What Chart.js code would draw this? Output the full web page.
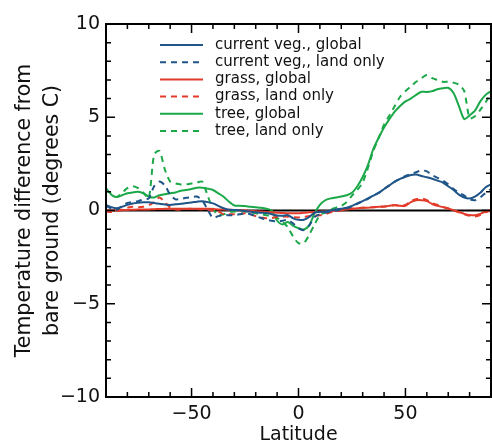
<!DOCTYPE html>
<html>
<head>
<meta charset="utf-8">
<script src="https://cdn.jsdelivr.net/npm/chart.js@4"></script>
<style>
  html, body { margin: 0; padding: 0; background: #fff; }
  #wrap { width: 492px; height: 446px; }
</style>
</head>
<body>
<div id="wrap"><canvas id="chart"></canvas></div>
<script>
// latitude grid (degrees)
const lats = [-90,-87.5,-85,-82.5,-80,-77.5,-75,-72.5,-70,-67.5,-65,-62.5,-60,-57.5,-55,-52.5,-50,-47.5,-45,-42.5,-40,-37.5,-35,-32.5,-30,
  -27.5,-25,-22.5,-20,-17.5,-15,-12.5,-10,-7.5,-5,-2.5,0,2.5,5,7.5,10,12.5,15,17.5,20,22.5,25,27.5,
  30,32.5,35,37.5,40,42.5,45,47.5,50,52.5,55,57.5,60,62.5,65,67.5,70,72.5,75,77.5,80,82.5,85,87.5,90];

const vegGlobal = [0.3,0.18,0.12,0.2,0.3,0.38,0.42,0.44,0.44,0.4,0.36,0.32,0.3,0.33,0.36,0.4,0.43,0.47,0.5,0.45,0.38,0.25,0.12,0.04,0.03,
  0.02,-0.03,-0.07,-0.1,-0.12,-0.14,-0.2,-0.27,-0.28,-0.25,-0.42,-0.5,-0.5,-0.35,-0.12,-0.08,-0.05,0.0,0.05,0.1,0.15,0.25,0.38,
  0.5,0.65,0.8,0.95,1.15,1.35,1.55,1.7,1.8,1.9,1.93,1.85,1.78,1.7,1.6,1.5,1.3,1.1,0.85,0.7,0.65,0.75,0.95,1.25,1.4];
const vegLand = [0.25,0.1,0.03,0.25,0.4,0.45,0.5,0.6,0.65,1.3,1.55,1.35,0.85,0.6,0.62,0.68,0.72,0.75,0.55,0.05,-0.4,-0.3,-0.25,-0.25,-0.25,
  -0.2,-0.15,-0.2,-0.3,-0.4,-0.5,-0.55,-0.6,-0.55,-0.5,-0.7,-0.95,-1.05,-0.8,-0.35,-0.2,-0.12,-0.05,0.0,0.05,0.12,0.2,0.35,
  0.5,0.62,0.8,0.95,1.15,1.35,1.55,1.7,1.85,1.95,2.05,2.15,2.1,1.9,1.75,1.6,1.4,1.15,0.95,0.8,0.6,0.55,0.7,0.95,1.15];
const grassGlobal = [0.0,0.0,0.0,0.02,0.03,0.04,0.05,0.05,0.06,0.07,0.08,0.09,0.1,0.1,0.1,0.1,0.1,0.1,0.1,0.09,0.08,0.06,0.05,0.04,0.03,
  0.02,0.0,-0.02,-0.04,-0.06,-0.08,-0.1,-0.12,-0.14,-0.15,-0.15,-0.15,-0.12,-0.1,-0.08,-0.06,-0.04,-0.02,0.0,0.03,0.05,0.1,0.12,
  0.15,0.15,0.18,0.2,0.2,0.25,0.3,0.25,0.25,0.45,0.55,0.55,0.5,0.35,0.25,0.18,0.1,0.02,-0.08,-0.18,-0.24,-0.25,-0.18,-0.05,0.02];
const grassLand = [-0.06,-0.08,-0.05,0.05,0.15,0.2,0.18,0.2,0.28,0.45,0.7,0.45,0.15,0.05,0.05,0.08,0.1,0.08,0.05,0.0,0.0,-0.05,-0.2,-0.2,-0.2,
  -0.2,-0.15,-0.2,-0.3,-0.38,-0.42,-0.4,-0.35,-0.33,-0.33,-0.36,-0.37,-0.35,-0.3,-0.28,-0.25,-0.2,-0.1,-0.05,0.0,0.05,0.1,0.12,
  0.15,0.15,0.18,0.2,0.22,0.25,0.28,0.25,0.3,0.5,0.6,0.65,0.55,0.4,0.3,0.2,0.12,0.0,-0.1,-0.2,-0.28,-0.32,-0.25,-0.1,0.0];
const treeGlobal = [1.2,0.85,0.72,0.82,0.92,0.97,1.0,0.92,0.74,0.7,0.82,0.87,0.92,0.97,1.06,1.1,1.15,1.22,1.22,1.17,1.1,0.92,0.74,0.47,0.27,
  0.26,0.24,0.2,0.17,0.15,0.1,0.0,-0.55,-0.75,-0.62,-0.82,-0.95,-1.02,-0.8,-0.15,0.3,0.55,0.65,0.7,0.75,0.82,0.95,1.3,
  1.8,2.45,3.3,3.9,4.45,4.9,5.3,5.6,5.85,6.0,6.2,6.37,6.35,6.4,6.5,6.55,6.58,6.3,5.6,4.9,5.1,5.35,5.85,6.2,6.4];
const treeLand = [1.1,0.9,0.72,0.95,1.2,1.3,1.2,0.95,0.65,3.0,3.2,2.2,1.55,1.45,1.4,1.4,1.45,1.5,1.55,0.8,0.1,-0.25,-0.2,-0.1,-0.05,
  -0.05,-0.05,-0.1,-0.15,-0.2,-0.25,-0.3,-0.4,-0.6,-0.9,-1.4,-1.75,-1.75,-1.3,-0.75,-0.25,-0.1,0.05,0.15,0.25,0.45,0.8,1.1,
  1.5,2.3,3.2,3.9,4.6,5.1,5.6,6.1,6.4,6.65,6.9,7.1,7.27,7.1,7.0,6.9,6.9,6.85,6.75,6.4,4.95,5.05,5.4,5.8,6.3];

const xTicks = [-50, 0, 50];
const yTicks = [-10, -5, 0, 5, 10];

const BLUE = '#1f5588', RED = '#e33b2a', GREEN = '#1ba848';
const FONT = 'DejaVu Sans';

function pts(vals) {
  return lats.map((lat, i) => ({x: lat, y: vals[i]}));
}

function series(label, vals, color, dashed) {
  return {
    label: label,
    data: pts(vals),
    borderColor: color,
    backgroundColor: color,
    borderWidth: 2,
    borderDash: dashed ? [6, 5] : [],
    pointRadius: 0,
    tension: 0.25,
    fill: false
  };
}

const minus = v => String(v).replace('-', '\u2212');

// inward ticks on all four sides, plot frame, and the in-plot legend
const frameAndLegend = {
  id: 'frameAndLegend',
  afterDraw(chart) {
    const ctx = chart.ctx;
    const a = chart.chartArea;
    const xs = chart.scales.x, ys = chart.scales.y;
    ctx.save();
    ctx.strokeStyle = '#000';
    ctx.lineWidth = 1.5;
    ctx.beginPath();
    for (let v = -80; v <= 80; v += 10) {
      const px = xs.getPixelForValue(v);
      const len = v % 50 === 0 ? 9 : 5;
      ctx.moveTo(px, a.bottom); ctx.lineTo(px, a.bottom - len);
      ctx.moveTo(px, a.top); ctx.lineTo(px, a.top + len);
    }
    for (let v = -9; v <= 9; v += 1) {
      const py = ys.getPixelForValue(v);
      const len = v % 5 === 0 ? 9 : 5;
      ctx.moveTo(a.left, py); ctx.lineTo(a.left + len, py);
      ctx.moveTo(a.right, py); ctx.lineTo(a.right - len, py);
    }
    ctx.stroke();
    ctx.lineWidth = 2;
    ctx.strokeRect(a.left, a.top, a.right - a.left, a.bottom - a.top);

    // legend
    const x0 = a.left + 54, y0 = a.top + 21, rowH = 17.2;
    ctx.font = '15px "' + FONT + '"';
    ctx.textBaseline = 'middle';
    ctx.fillStyle = '#111';
    chart.data.datasets.filter(d => d.label).forEach((d, i) => {
      const y = y0 + i * rowH;
      ctx.strokeStyle = d.borderColor;
      ctx.lineWidth = 2;
      ctx.setLineDash(d.borderDash);
      ctx.beginPath();
      ctx.moveTo(x0, y); ctx.lineTo(x0 + 43, y);
      ctx.stroke();
      ctx.setLineDash([]);
      ctx.fillText(d.label, x0 + 55, y);
    });
    ctx.restore();
  }
};

new Chart(document.getElementById('chart'), {
  type: 'line',
  data: {
    datasets: [
      series('current veg., global', vegGlobal, BLUE, false),
      series('current veg,, land only', vegLand, BLUE, true),
      series('grass, global', grassGlobal, RED, false),
      series('grass, land only', grassLand, RED, true),
      series('tree, global', treeGlobal, GREEN, false),
      series('tree, land only', treeLand, GREEN, true),
      {
        label: '',
        data: [{x: -90, y: 0}, {x: 90, y: 0}],
        borderColor: '#000',
        borderWidth: 2,
        pointRadius: 0
      }
    ]
  },
  options: {
    responsive: true,
    maintainAspectRatio: false,
    animation: false,
    layout: { padding: { top: 24, right: 1, left: 0, bottom: 0 } },
    plugins: { legend: { display: false }, tooltip: { enabled: false } },
    scales: {
      x: {
        type: 'linear',
        min: -90,
        max: 90,
        afterBuildTicks: s => { s.ticks = xTicks.map(v => ({value: v})); },
        afterFit: s => { s.height = 49; },
        grid: { display: false, drawTicks: false },
        border: { display: false },
        ticks: {
          padding: 6,
          maxRotation: 0,
          color: '#111',
          font: { family: FONT, size: 19 },
          callback: v => minus(v)
        },
        title: {
          display: true,
          text: 'Latitude',
          color: '#111',
          padding: { top: 0, bottom: 0 },
          font: { family: FONT, size: 19, lineHeight: 1.2 }
        }
      },
      y: {
        min: -10,
        max: 10,
        afterBuildTicks: s => { s.ticks = yTicks.map(v => ({value: v})); },
        afterFit: s => { s.width = 106; },
        grid: { display: false, drawTicks: false },
        border: { display: false },
        ticks: {
          padding: 6,
          color: '#111',
          font: { family: FONT, size: 19 },
          callback: v => minus(v)
        },
        title: {
          display: true,
          text: ['Temperature difference from', 'bare ground (degrees C)'],
          color: '#111',
          padding: { top: 11, bottom: 0 },
          font: { family: FONT, size: 20.5, lineHeight: '28px' }
        }
      }
    }
  },
  plugins: [frameAndLegend]
});
</script>
</body>
</html>
